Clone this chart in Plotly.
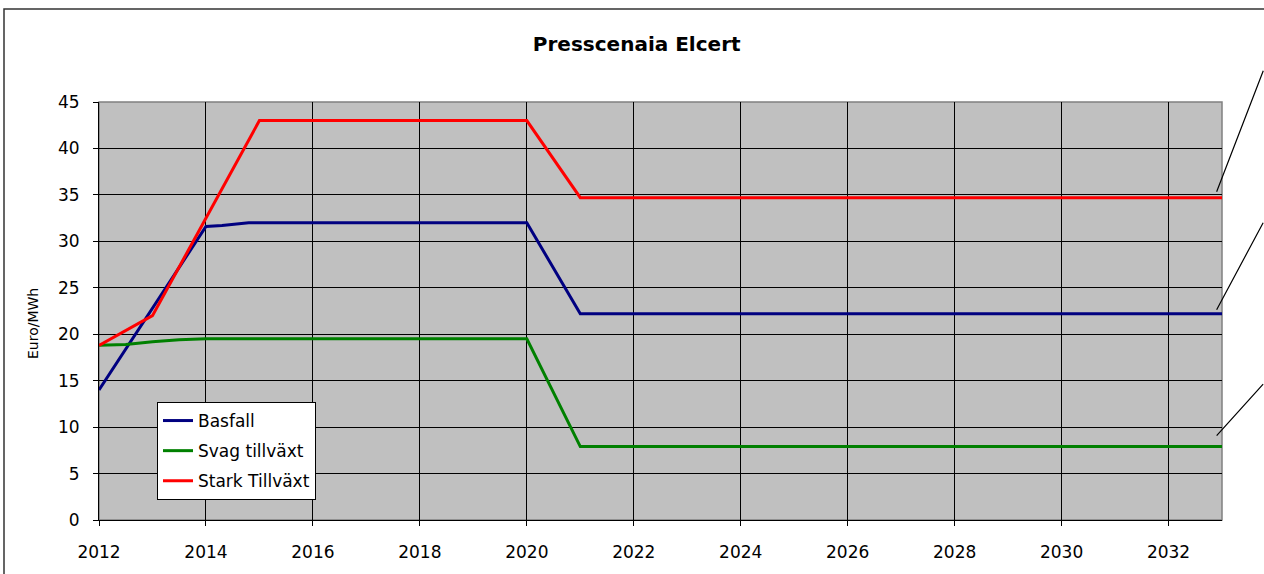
import plotly.graph_objects as go

# ---- data ----
basfall_years = [2012, 2014, 2014.3, 2014.8, 2020, 2021, 2033]
basfall_vals = [14.0, 31.6, 31.7, 32.0, 32.0, 22.2, 22.2]

svag_years = [2012, 2012.5, 2013, 2013.5, 2014, 2020, 2021, 2033]
svag_vals = [18.8, 18.9, 19.2, 19.4, 19.5, 19.5, 7.9, 7.9]

stark_years = [2012, 2012.7, 2013, 2015, 2020, 2021, 2033]
stark_vals = [18.8, 21.0, 22.0, 43.0, 43.0, 34.7, 34.7]

series_names = ["Basfall", "Svag tillväxt", "Stark Tillväxt"]
x_ticks = list(range(2012, 2033, 2))
y_ticks = list(range(0, 50, 5))

colors = ["#000080", "#008000", "#FF0000"]
FONT = "DejaVu Sans, Verdana, sans-serif"

fig = go.Figure()
for i, (xs, ys) in enumerate([(basfall_years, basfall_vals),
                              (svag_years, svag_vals),
                              (stark_years, stark_vals)]):
    fig.add_trace(go.Scatter(x=xs, y=ys, mode="lines", name=series_names[i],
                             legendgroup=f"g{i}",
                             line=dict(color=colors[i], width=3)))

W, H = 1264, 574
L, R, T, B = 99, 42, 102, 54
pw, ph = W - L - R, H - T - B

def px_to_paper(x, y):
    return (x - L) / pw, (H - B - y) / ph

x0, y1 = px_to_paper(4, 9)
lx, ly = px_to_paper(157, 402)
tx, ty = px_to_paper(33, 324)

fig.update_layout(
    width=W, height=H, autosize=False,
    margin=dict(l=L, r=R, t=T, b=B, pad=0),
    paper_bgcolor="white",
    plot_bgcolor="#C0C0C0",
    font=dict(family=FONT, size=17, color="black"),
    title=dict(text="<b>Presscenaia Elcert</b>", x=636.7 / W, xanchor="center",
               y=1 - 44 / H, yanchor="middle", font=dict(size=20, family=FONT)),
    showlegend=True,
    legend=dict(x=lx, y=ly, xanchor="left", yanchor="top",
                bgcolor="white", bordercolor="black", borderwidth=1,
                font=dict(size=17, family=FONT), tracegroupgap=5, itemwidth=30),
    xaxis=dict(range=[2012, 2033], tickvals=x_ticks, showgrid=True,
               gridcolor="black", gridwidth=1, zeroline=False,
               showline=True, linecolor="black", linewidth=1,
               ticks="outside", ticklen=5, tickcolor="black",
               ticklabelstandoff=12,
               tickfont=dict(size=17, family=FONT)),
    yaxis=dict(range=[0, 45], tickvals=y_ticks, showgrid=True,
               gridcolor="black", gridwidth=1, zeroline=False,
               showline=True, linecolor="black", linewidth=1,
               ticks="outside", ticklen=5, tickcolor="black",
               ticklabelstandoff=10,
               tickfont=dict(size=17, family=FONT)),
    shapes=[
        dict(type="rect", xref="x domain", yref="y domain", x0=0, x1=1, y0=0, y1=1,
             line=dict(color="#808080", width=1.5), layer="below"),
        dict(type="rect", xref="paper", yref="paper", x0=x0, x1=1.2, y0=-0.4, y1=y1,
             line=dict(color="#333333", width=1.5)),
    ],
)

fig.add_annotation(x=tx, y=ty, xref="paper", yref="paper", text="Euro/MWh",
                   textangle=-90, showarrow=False, font=dict(size=14, family=FONT),
                   xanchor="center", yanchor="middle")

# leader lines of data labels (labels lie outside the visible area)
leaders = [(stark_vals[-1], 6, -122), (basfall_vals[-1], 4, -88), (svag_vals[-1], 11, -52)]
for val, shift, ay in leaders:
    fig.add_annotation(x=2032.9, y=val, xref="x", yref="y", text=" ",
                       font=dict(size=1), borderpad=0,
                       showarrow=True, arrowhead=0, arrowwidth=1.2, arrowcolor="black",
                       ax=47, ay=ay, yshift=shift, standoff=0)

fig.write_html("out.html")
